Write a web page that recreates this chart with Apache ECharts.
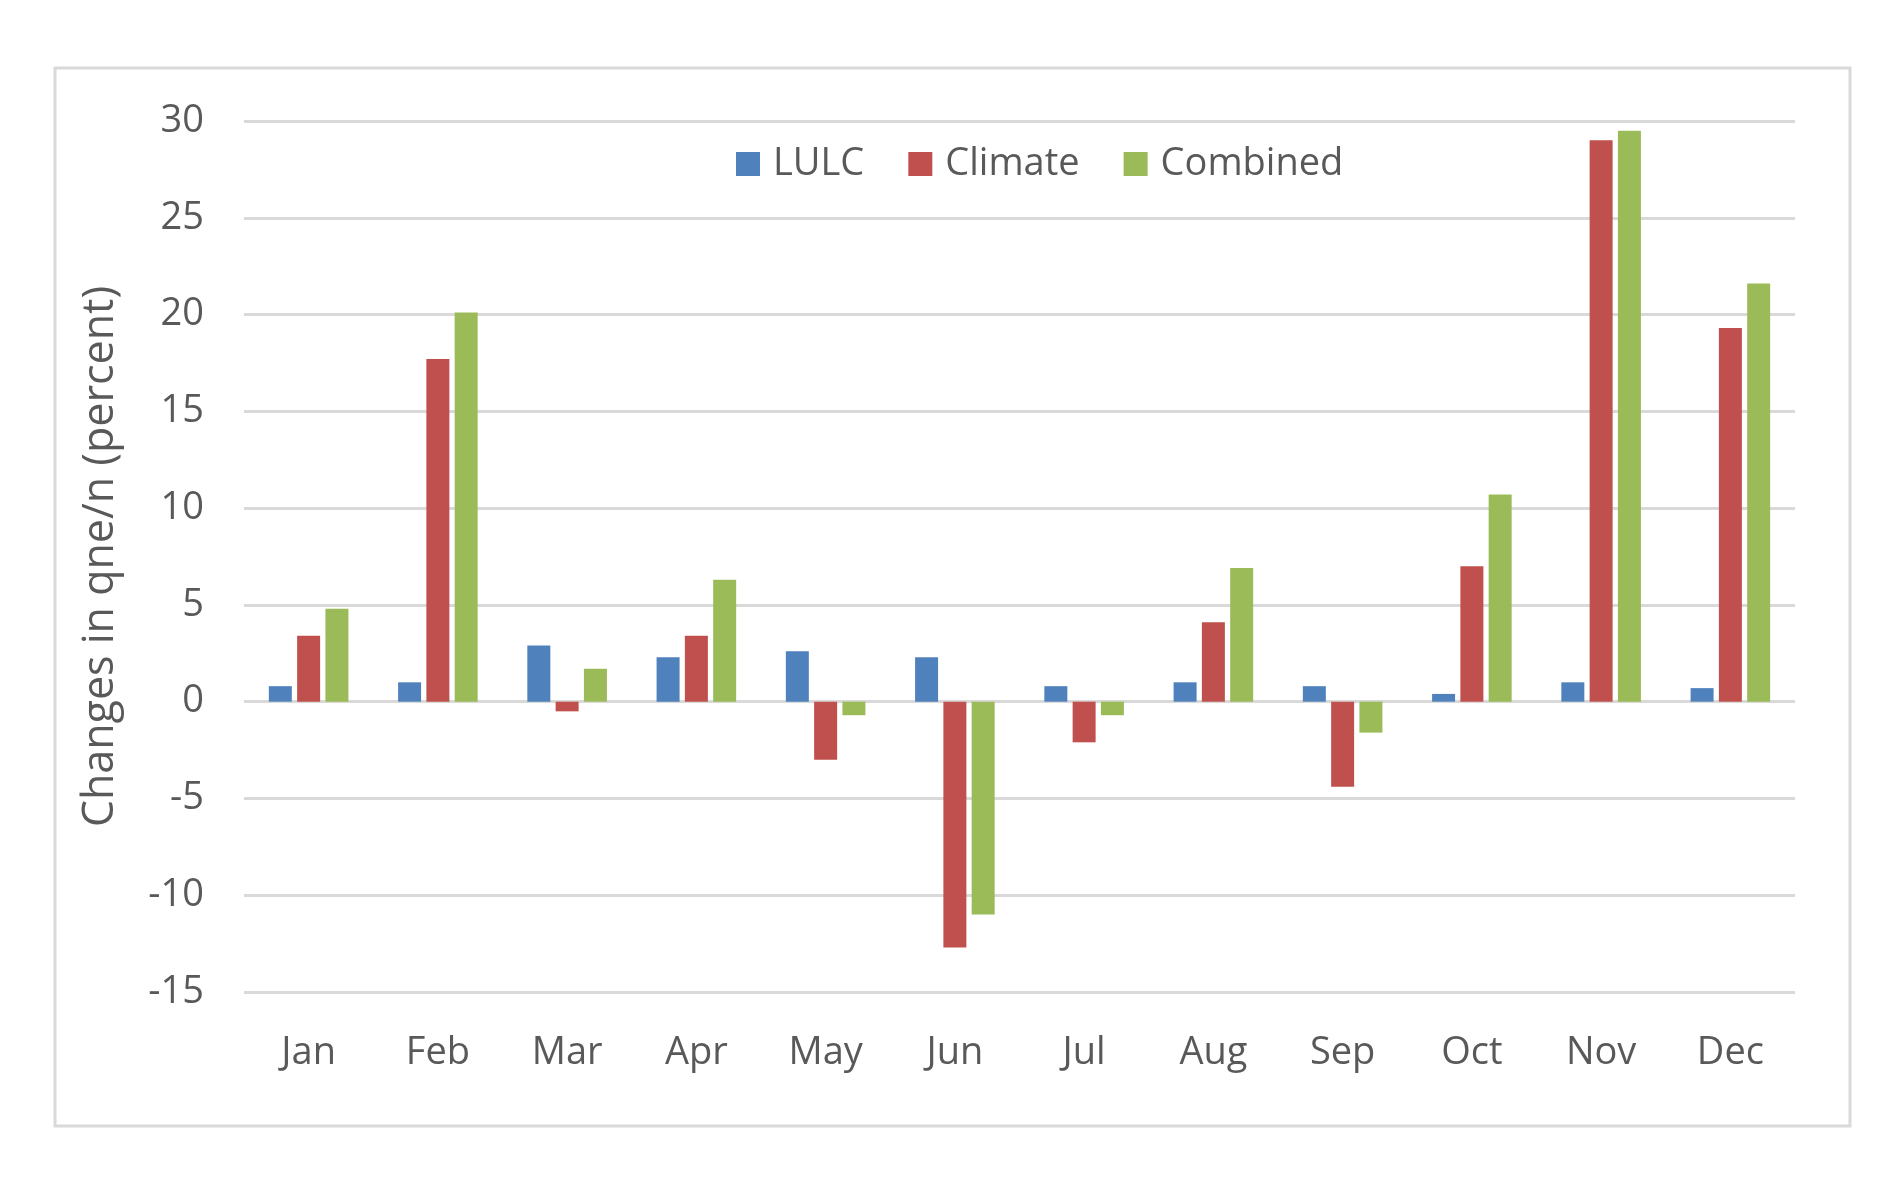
<!DOCTYPE html>
<html>
<head>
<meta charset="utf-8">
<script src="https://cdn.jsdelivr.net/npm/echarts@6/dist/echarts.min.js"></script>
<style>
  html, body { margin: 0; padding: 0; background: #fff; }
  #chart { width: 1904px; height: 1184px; }
</style>
</head>
<body>
<div id="chart"></div>
<script>
var months = ['Jan', 'Feb', 'Mar', 'Apr', 'May', 'Jun', 'Jul', 'Aug', 'Sep', 'Oct', 'Nov', 'Dec'];
var lulc = [0.8, 1.0, 2.9, 2.3, 2.6, 2.3, 0.8, 1.0, 0.8, 0.4, 1.0, 0.7];
var climate = [3.4, 17.7, -0.5, 3.4, -3.0, -12.7, -2.1, 4.1, -4.4, 7.0, 29.0, 19.3];
var combined = [4.8, 20.1, 1.7, 6.3, -0.7, -11.0, -0.7, 6.9, -1.6, 10.7, 29.5, 21.6];

var chartDom = document.getElementById('chart');
var myChart = echarts.init(chartDom);
var fontFam = 'Open Sans';
var textCol = '#595959';

var option = {
    backgroundColor: '#fff',
    animation: false,
    graphic: [
        {
            type: 'rect',
            shape: { x: 55, y: 68, width: 1795, height: 1058 },
            style: { fill: 'none', stroke: '#d9d9d9', lineWidth: 3 },
            silent: true
        }
    ],
    legend: {
        top: 140,
        left: 731,
        itemWidth: 24,
        itemHeight: 24,
        itemGap: 44,
        icon: 'rect',
        textStyle: { fontFamily: fontFam, fontSize: 38, color: textCol, padding: [0, 0, 0, 8] },
        data: ['LULC', 'Climate', 'Combined']
    },
    grid: {
        left: 244,
        right: 109,
        top: 121,
        bottom: 192
    },
    xAxis: {
        type: 'category',
        data: months,
        axisTick: { show: false },
        axisLine: { show: false },
        axisLabel: {
            fontFamily: fontFam, fontSize: 38, color: textCol,
            margin: 42, interval: 0
        }
    },
    yAxis: {
        type: 'value',
        min: -15,
        max: 30,
        interval: 5,
        name: 'Changes in qne/n (percent)',
        nameLocation: 'middle',
        nameGap: 122,
        nameTextStyle: { fontFamily: fontFam, fontSize: 43, color: textCol },
        axisLine: { show: false },
        axisTick: { show: false },
        axisLabel: { fontFamily: fontFam, fontSize: 38, color: textCol, margin: 40 },
        splitLine: { lineStyle: { color: '#d9d9d9', width: 3 } }
    },
    series: [
        {
            name: 'LULC', type: 'bar', data: lulc,
            barWidth: 23, barGap: '23%',
            itemStyle: { color: '#4f81bd' }
        },
        {
            name: 'Climate', type: 'bar', data: climate,
            barWidth: 23, barGap: '23%',
            itemStyle: { color: '#c0504d' }
        },
        {
            name: 'Combined', type: 'bar', data: combined,
            barWidth: 23, barGap: '23%',
            itemStyle: { color: '#9bbb59' }
        }
    ]
};

myChart.setOption(option);
</script>
</body>
</html>
